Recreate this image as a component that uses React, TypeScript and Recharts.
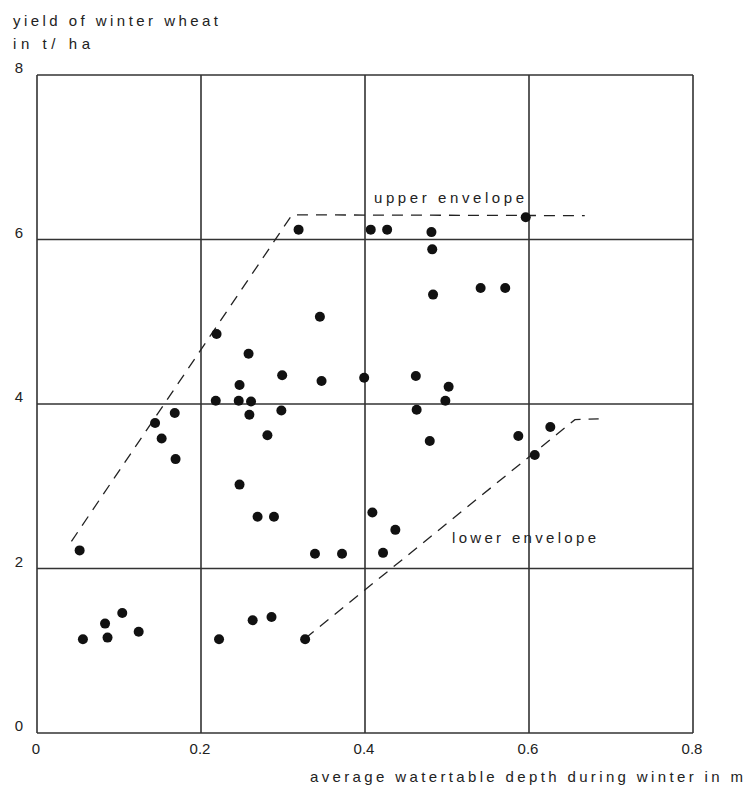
import React from 'react'
import { ScatterChart, Scatter, XAxis, YAxis, CartesianGrid } from 'recharts'

// watertable depth (m) and winter wheat yield (t/ha)
const depth = [
  0.319, 0.407, 0.427, 0.481, 0.482, 0.596, 0.541, 0.571, 0.483, 0.345,
  0.219, 0.258, 0.299, 0.347, 0.247, 0.218, 0.246, 0.261, 0.168, 0.259,
  0.298, 0.144, 0.152, 0.281, 0.169, 0.399, 0.462, 0.502, 0.498, 0.463,
  0.479, 0.587, 0.626, 0.607, 0.247, 0.269, 0.289, 0.052, 0.339, 0.372,
  0.409, 0.422, 0.437, 0.104, 0.083, 0.086, 0.056, 0.124, 0.222, 0.263,
  0.286, 0.327,
]
const yieldT = [
  6.12, 6.12, 6.12, 6.09, 5.88, 6.27, 5.41, 5.41, 5.33, 5.06,
  4.85, 4.61, 4.35, 4.28, 4.23, 4.04, 4.04, 4.03, 3.89, 3.87,
  3.92, 3.77, 3.58, 3.62, 3.33, 4.32, 4.34, 4.21, 4.04, 3.93,
  3.55, 3.61, 3.72, 3.38, 3.02, 2.63, 2.63, 2.22, 2.18, 2.18,
  2.68, 2.19, 2.47, 1.46, 1.33, 1.16, 1.14, 1.23, 1.14, 1.37,
  1.41, 1.14,
]

const upperDepth = [0.042, 0.311, 0.668]
const upperYield = [2.33, 6.3, 6.29]
const lowerDepth = [0.327, 0.656, 0.685]
const lowerYield = [1.15, 3.81, 3.82]

const xTicks = [0, 0.2, 0.4, 0.6, 0.8]
const yTicks = [0, 2, 4, 6, 8]

const points = depth.map((d, i) => ({ x: d, y: yieldT[i] }))
const upper = upperDepth.map((d, i) => ({ x: d, y: upperYield[i] }))
const lower = lowerDepth.map((d, i) => ({ x: d, y: lowerYield[i] }))

const ink = '#222'
const font = '"Liberation Sans", Arial, sans-serif'

const Dot = (p: any) => <circle cx={p.cx} cy={p.cy} r={5} fill="#111" />
const NoDot = () => <g />

const envelopeLine = { stroke: ink, strokeWidth: 1.3, strokeDasharray: '11 8' }

export default function App() {
  return (
    <div style={{ position: 'absolute', left: 0, top: 0, width: 747, height: 790, background: '#fff' }}>
      <ScatterChart width={747} height={790} margin={{ top: 75, right: 54, bottom: 27, left: 0 }}>
        <CartesianGrid stroke="#333" strokeWidth={1.6} />
        <XAxis
          type="number"
          dataKey="x"
          domain={[0, 0.8]}
          ticks={xTicks}
          height={30}
          axisLine={false}
          tickLine={false}
          tick={(p: any) => (
            <text x={p.x - 1} y={749} dy="0.35em" textAnchor="middle" fontSize={15} fontFamily={font} fill={ink}>
              {String(p.payload.value)}
            </text>
          )}
        />
        <YAxis
          type="number"
          dataKey="y"
          domain={[0, 8]}
          ticks={yTicks}
          width={37}
          axisLine={false}
          tickLine={false}
          tick={(p: any) => (
            <text x={19} y={p.y - 7} dy="0.35em" textAnchor="middle" fontSize={15} fontFamily={font} fill={ink}>
              {String(p.payload.value)}
            </text>
          )}
        />
        <Scatter data={upper} line={envelopeLine} lineType="joint" shape={NoDot} isAnimationActive={false} />
        <Scatter data={lower} line={envelopeLine} lineType="joint" shape={NoDot} isAnimationActive={false} />
        <Scatter data={points} shape={Dot} isAnimationActive={false} />
      </ScatterChart>
      <svg
        width={747}
        height={790}
        style={{ position: 'absolute', left: 0, top: 0, pointerEvents: 'none' }}
        fontFamily={font}
        fontSize={15}
        fill={ink}
      >
        <text x={13} y={26} textLength={205} lengthAdjust="spacing">yield of winter wheat</text>
        <text x={13} y={49} textLength={77} lengthAdjust="spacing">in t/ ha</text>
        <text x={374} y={203} textLength={150} lengthAdjust="spacing">upper envelope</text>
        <text x={452} y={543} textLength={144} lengthAdjust="spacing">lower envelope</text>
        <text x={310} y={782} textLength={433} lengthAdjust="spacing">average watertable depth during winter in m</text>
      </svg>
    </div>
  )
}
